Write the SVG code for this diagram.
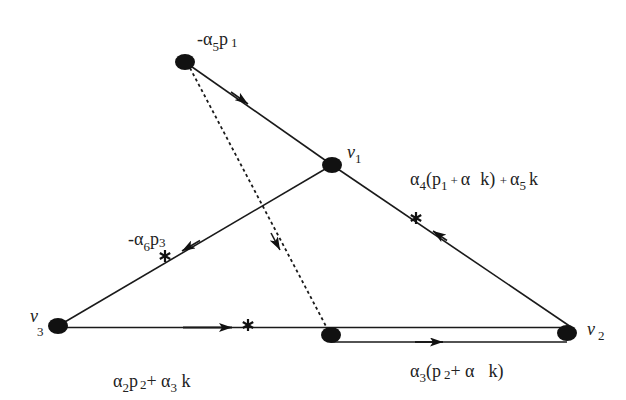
<svg xmlns="http://www.w3.org/2000/svg" width="626" height="400" viewBox="0 0 626 400">
<style>
.ln{stroke:#1a1a1a;stroke-width:1.6;fill:none}
.dash{stroke:#1a1a1a;stroke-width:1.8;fill:none;stroke-dasharray:3 3}
.nd{fill:#111}
.t{font-family:"Liberation Serif",serif;font-size:18px;fill:#222}
.s{font-size:13px}
.it{font-style:italic}
.ar{stroke:#1a1a1a;stroke-width:1.6;fill:none;marker-end:url(#ah)}
.st{stroke:#111;stroke-width:2.2}
</style>
<defs>
<marker id="ah" viewBox="0 0 13 9" refX="13" refY="4.5" markerWidth="13" markerHeight="9" markerUnits="userSpaceOnUse" orient="auto">
<path d="M0,0 L13,4.5 L0,9 L3,4.5 Z" fill="#111"/>
</marker>
<g id="star">
<line x1="0" y1="-6" x2="0" y2="6"/>
<line x1="-5.2" y1="-3" x2="5.2" y2="3"/>
<line x1="-5.2" y1="3" x2="5.2" y2="-3"/>
</g>
</defs>
<g id="connectors">
<line class="ln" x1="185" y1="62" x2="332" y2="165"/>
<line class="ln" x1="332" y1="165" x2="571" y2="327"/>
<line class="ln" x1="332" y1="165" x2="58" y2="326"/>
<line class="ln" x1="58" y1="327.5" x2="567" y2="327.5"/>
<line class="ln" x1="331" y1="342" x2="567" y2="342"/>
<line class="dash" x1="190" y1="68" x2="328" y2="330"/>
<path class="ar" d="M231,92 L248,104"/>
<path class="ar" d="M447,240.5 L433,231"/>
<path class="ar" d="M200,240.5 L182,251"/>
<path class="ar" d="M183,327.5 L232,327.5" style="stroke-width:2"/>
<path class="ar" d="M415,342 L443,342" style="stroke-width:2"/>
<path class="ar" d="M271,233 L280,250"/>
<g class="st">
<use href="#star" x="416" y="218"/>
<use href="#star" x="165" y="256"/>
<use href="#star" x="248" y="325"/>
</g>
</g>
<g id="n_top"><ellipse class="nd" cx="185" cy="62" rx="10" ry="8"/></g>
<g id="n_v1"><ellipse class="nd" cx="332" cy="165" rx="10" ry="8"/></g>
<g id="n_v3"><ellipse class="nd" cx="58" cy="326" rx="10" ry="8"/></g>
<g id="n_mid"><ellipse class="nd" cx="331" cy="335" rx="10" ry="8"/></g>
<g id="n_v2"><ellipse class="nd" cx="567" cy="333" rx="10" ry="8"/></g>
<g id="labels">
<text class="t" x="197" y="45">-α<tspan class="s" dy="6">5</tspan><tspan dy="-6">p</tspan><tspan class="s" dx="3" dy="2">1</tspan></text>
<text class="t" x="347" y="158"><tspan class="it">v</tspan><tspan class="s" dy="5">1</tspan></text>
<text class="t" x="410" y="185">α<tspan class="s" dy="5">4</tspan><tspan dy="-5">(p</tspan><tspan class="s" dy="5">1</tspan><tspan class="s" dy="-5" dx="3">+</tspan><tspan dx="3">α</tspan><tspan dx="10">k) </tspan><tspan class="s">+</tspan><tspan dx="3">α</tspan><tspan class="s" dy="5">5</tspan><tspan dy="-5" dx="3">k</tspan></text>
<text class="t" x="128" y="245">-α<tspan class="s" dy="6">6</tspan><tspan dy="-6">p</tspan><tspan class="s" dy="2">3</tspan></text>
<text class="t" x="30" y="322"><tspan class="it">v</tspan><tspan class="s" x="37" y="336">3</tspan></text>
<text class="t" x="113" y="387">α<tspan class="s" dy="5">2</tspan><tspan dy="-5">p</tspan><tspan class="s" dx="2" dy="2">2</tspan><tspan dy="-2">+ α</tspan><tspan class="s" dy="5">3</tspan><tspan dy="-5"> k</tspan></text>
<text class="t" x="410" y="377">α<tspan class="s" dy="5">3</tspan><tspan dy="-5">(p</tspan><tspan class="s" dx="3" dy="2">2</tspan><tspan dy="-2">+ α</tspan><tspan dx="14">k)</tspan></text>
<text class="t" x="587" y="335"><tspan class="it">v</tspan><tspan class="s" dx="3" dy="5">2</tspan></text>
</g>
</svg>
